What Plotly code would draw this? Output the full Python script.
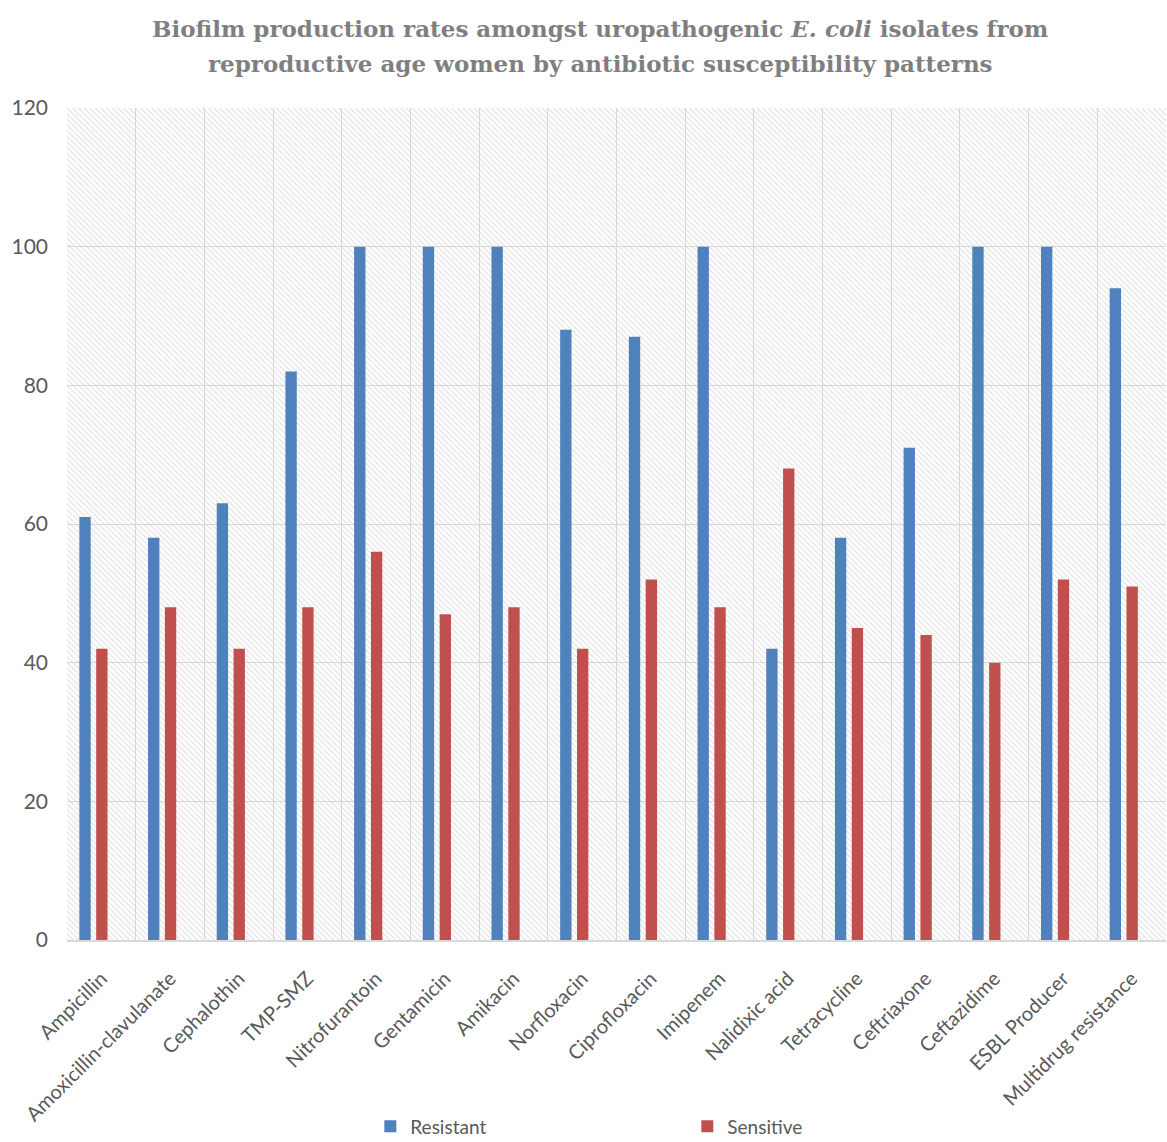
import plotly.graph_objects as go

# Antibiotic categories and biofilm production rates (%)
categories = [
    "Ampicillin", "Amoxicillin-clavulanate", "Cephalothin", "TMP-SMZ",
    "Nitrofurantoin", "Gentamicin", "Amikacin", "Norfloxacin",
    "Ciprofloxacin", "Imipenem", "Nalidixic acid", "Tetracycline",
    "Ceftriaxone", "Ceftazidime", "ESBL Producer", "Multidrug resistance",
]
resistant = [61, 58, 63, 82, 100, 100, 100, 88, 87, 100, 42, 58, 71, 100, 100, 94]
sensitive = [42, 48, 42, 48, 56, 47, 48, 42, 52, 48, 68, 45, 44, 40, 52, 51]
y_ticks = [0, 20, 40, 60, 80, 100, 120]
title_lines = [
    "Biofilm production rates amongst uropathogenic <i>E. coli</i> isolates from",
    "reproductive age women by antibiotic susceptibility patterns",
]

BLUE = "#4F81BD"
RED = "#C0504D"
AXIS_GREY = "#595959"
TITLE_GREY = "#7f7f7f"

fig = go.Figure()

# Hatched plot-area background, drawn as a full-height transparent bar with a pattern
fig.add_trace(go.Bar(
    x=categories, y=[y_ticks[-1]] * len(categories),
    width=1.0, offset=-0.5,
    marker=dict(color="rgba(0,0,0,0)", line=dict(width=0),
                pattern=dict(shape="\\", fgcolor="#cccccc", bgcolor="rgba(0,0,0,0)",
                             size=4, solidity=0.35, fillmode="overlay")),
    showlegend=False, hoverinfo="skip",
))

fig.add_trace(go.Bar(
    name="Resistant", x=categories, y=resistant,
    width=0.165, offset=-0.32,
    marker=dict(color=BLUE, line=dict(width=0)),
))
fig.add_trace(go.Bar(
    name="Sensitive", x=categories, y=sensitive,
    width=0.165, offset=-0.075,
    marker=dict(color=RED, line=dict(width=0)),
))

# Two-line chart title, one annotation per line for tighter control of spacing
for text, ypos in zip(title_lines, [1.096, 1.054]):
    fig.add_annotation(
        text=text, xref="paper", yref="paper",
        x=0.485, y=ypos, xanchor="center", yanchor="middle",
        showarrow=False,
        font=dict(family="DejaVu Serif, Liberation Serif, serif", size=23,
                  color=TITLE_GREY, weight="bold"),
    )

fig.update_layout(
    width=1167, height=1142,
    barmode="overlay",
    paper_bgcolor="white",
    plot_bgcolor="white",
    margin=dict(l=67, r=1, t=108, b=202, autoexpand=False),
    font=dict(family="Lato, Open Sans, sans-serif", color=AXIS_GREY),
    xaxis=dict(
        type="category", tickson="boundaries", automargin=False,
        showgrid=True, gridcolor="#d9d9d9", gridwidth=1,
        showline=True, linecolor="#d9d9d9", linewidth=2,
        ticks="", tickangle=-45,
        ticklabelstandoff=17,
        tickfont=dict(size=20, color=AXIS_GREY),
        range=[-0.5, len(categories) - 0.5],
    ),
    yaxis=dict(
        range=[0, 120], tickvals=y_ticks, automargin=False,
        showgrid=True, gridcolor="#d9d9d9", gridwidth=1,
        zeroline=False, showline=False, ticks="",
        ticklabelstandoff=18,
        tickfont=dict(size=21, color=AXIS_GREY),
    ),
    legend=dict(
        orientation="h", x=0.276, xanchor="left", y=-0.224, yanchor="middle",
        entrywidth=272, entrywidthmode="pixels",
        font=dict(size=19, color=AXIS_GREY),
        itemsizing="constant",
    ),
)

fig.write_html("out.html")
